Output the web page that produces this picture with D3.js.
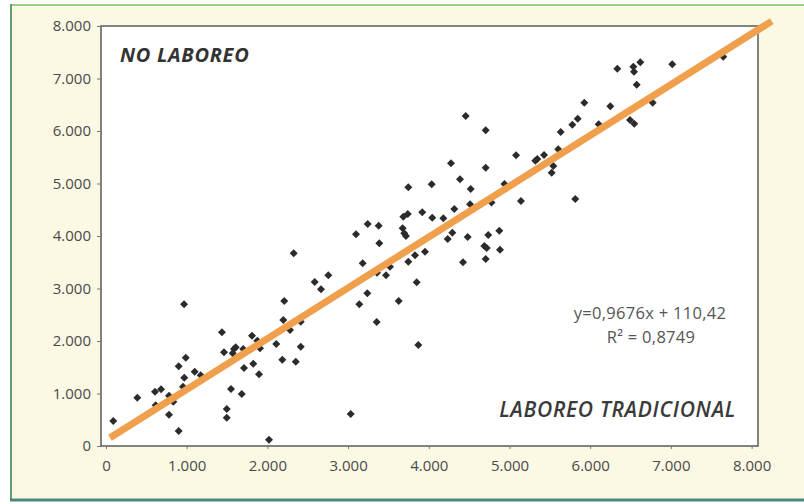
<!DOCTYPE html>
<html>
<head>
<meta charset="utf-8">
<script src="https://cdn.jsdelivr.net/npm/d3@7"></script>
<style>
  body { margin: 0; background: #fff; }
  svg { display: block; }
  .tick text { font-family: "Open Sans", "Noto Sans", sans-serif; fill: #4a4a4a; }
</style>
</head>
<body>
<svg id="chart"></svg>
<script>
const width = 804;
const height = 504;

// readings from the picture (kg/ha style values)
const xs = [90, 388, 607, 682, 781, 616, 781, 901, 967, 901, 988, 970, 954, 1099, 1173, 834, 1437, 1462, 1586, 1607,
  1570, 1701, 1710, 1549, 1682, 1496, 1496, 1809, 1825, 1875, 1896, 1908, 2020, 2110, 2185, 2197, 2209, 2280, 2351, 2413,
  2413, 2326, 2586, 2664, 2755,
  4457, 4705, 5081, 5320, 5345, 5428, 4275, 4705, 4387, 4519, 3746, 4036, 4511, 4316, 3919, 3684, 3739, 4043, 4180, 5142,
  4777, 4938, 3243, 3379, 3098, 3676, 3696, 3717, 3387, 4291, 4234, 4482, 4737, 4874, 4688, 4717, 4882, 4705, 4424, 3953,
  3829, 3746, 3181, 3470, 3358, 3850, 3238, 3139, 3627, 3354, 3870, 3032, 3519,
  6336, 6534, 6543, 6621, 7017, 6576, 7649, 6774, 5927, 6249, 6493, 6546, 5845, 5778, 6105, 5634, 5604, 5543, 5523, 5815];
const ys = [476, 920, 1034, 1080, 958, 775, 596, 286, 2699, 1518, 1682, 1301, 1130, 1415, 1347, 844, 2166, 1785, 1848, 1880,
  1766, 1848, 1486, 1086, 990, 705, 539, 2101, 1568, 2006, 1366, 1861, 120, 1943, 1644, 2400, 2762, 2210, 1606, 1891,
  2368, 3670, 3124, 2985, 3251,
  6286, 6013, 5537, 5434, 5467, 5543, 5385, 5301, 5080, 4895, 4928, 4985, 4604, 4514, 4451, 4368, 4419, 4349, 4337, 4667,
  4638, 4990, 4229, 4196, 4032, 4147, 4051, 4000, 3861, 4063, 3943, 3981, 4019, 4101, 3810, 3771, 3739, 3562, 3499, 3701,
  3632, 3510, 3480, 3251, 3301, 3118, 2909, 2699, 2762, 2362, 1924, 610, 3415,
  7187, 7225, 7130, 7309, 7270, 6882, 7415, 6539, 6539, 6470, 6210, 6139, 6234, 6120, 6128, 5981, 5651, 5333, 5206, 4705];

const tickVals = [0, 1000, 2000, 3000, 4000, 5000, 6000, 7000, 8000];
const tickLabels = ['0', '1.000', '2.000', '3.000', '4.000', '5.000', '6.000', '7.000', '8.000'];

const slope = 0.9676;
const intercept = 110.42;
const fitRange = [50, 8250];
const eqText = 'y=0,9676x + 110,42';
const r2Text = 'R² = 0,8749';

const svg = d3.select('#chart')
    .attr('width', width)
    .attr('height', height);

// page background + green frame
svg.append('rect').attr('x', 12).attr('y', 6).attr('width', width - 12).attr('height', 492).attr('fill', '#fbf8e4');
svg.append('line').attr('x1', 11).attr('x2', width).attr('y1', 5).attr('y2', 5)
    .attr('stroke', '#96d186').attr('stroke-width', 2);
svg.append('line').attr('x1', 11).attr('x2', 11).attr('y1', 4).attr('y2', 500)
    .attr('stroke', '#5f9f72').attr('stroke-width', 2);
svg.append('line').attr('x1', 10).attr('x2', width).attr('y1', 500).attr('y2', 500)
    .attr('stroke', '#4a8878').attr('stroke-width', 3);

const x = d3.scaleLinear().domain([0, 8000]).range([106, 751.6]);
const y = d3.scaleLinear().domain([0, 8000]).range([446, 26]);

const plotL = 101, plotR = 758, plotT = 26, plotB = 446;

// plot area
svg.append('rect')
    .attr('x', plotL).attr('y', plotT)
    .attr('width', plotR - plotL).attr('height', plotB - plotT)
    .attr('fill', '#fff')
    .attr('stroke', '#5a5a5a')
    .attr('stroke-width', 1.5);

const yAxis = svg.append('g')
    .attr('transform', `translate(${plotL}, 0)`)
    .call(d3.axisLeft(y).tickValues(tickVals).tickSize(4).tickPadding(6)
        .tickFormat((d, i) => tickLabels[i]));
yAxis.select('.domain').remove();
yAxis.selectAll('line').attr('stroke', '#777');
yAxis.selectAll('text').style('font-size', '15px');

const xAxis = svg.append('g')
    .attr('transform', `translate(0, ${plotB})`)
    .call(d3.axisBottom(x).tickValues(tickVals).tickSize(3).tickPadding(11)
        .tickFormat((d, i) => tickLabels[i]));
xAxis.select('.domain').remove();
xAxis.selectAll('line').attr('stroke', '#777');
xAxis.selectAll('text').style('font-size', '15px');

// points
const pts = xs.map((v, i) => ({x: v, y: ys[i]}));
svg.append('g')
    .selectAll('path')
    .data(pts)
    .enter()
    .append('path')
    .attr('d', d3.symbol().type(d3.symbolSquare).size(32))
    .attr('transform', d => `translate(${x(d.x)}, ${y(d.y)}) rotate(45)`)
    .attr('fill', '#2b2b2b');

// trend line
svg.append('path')
    .datum(fitRange)
    .attr('fill', 'none')
    .attr('stroke', '#f0a04c')
    .attr('stroke-width', 7)
    .attr('stroke-linecap', 'butt')
    .attr('d', d3.line().x(d => x(d)).y(d => y(slope * d + intercept)));

// labels
svg.append('text')
    .attr('x', 120).attr('y', 62)
    .style('font-family', '"Open Sans", "Noto Sans", sans-serif')
    .style('font-size', '20px')
    .style('letter-spacing', '0.7px')
    .style('font-weight', 'bold')
    .style('font-style', 'italic')
    .attr('fill', '#333')
    .text('NO LABOREO');

svg.append('text')
    .attr('x', 736).attr('y', 417)
    .attr('text-anchor', 'end')
    .style('font-family', '"Open Sans", "Noto Sans", sans-serif')
    .style('font-size', '21px')
    .style('letter-spacing', '0.7px')
    .style('font-weight', '600')
    .style('font-style', 'italic')
    .attr('fill', '#3a3a3a')
    .text('LABOREO TRADICIONAL');

svg.append('text')
    .attr('x', 650).attr('y', 319)
    .attr('text-anchor', 'middle')
    .style('font-family', '"Open Sans", "Noto Sans", sans-serif')
    .style('font-size', '16.5px')
    .style('letter-spacing', '0.3px')
    .attr('fill', '#555')
    .text(eqText);

svg.append('text')
    .attr('x', 651).attr('y', 343)
    .attr('text-anchor', 'middle')
    .style('font-family', '"Open Sans", "Noto Sans", sans-serif')
    .style('font-size', '16.5px')
    .style('letter-spacing', '0.3px')
    .attr('fill', '#555')
    .text(r2Text);
</script>
</body>
</html>
